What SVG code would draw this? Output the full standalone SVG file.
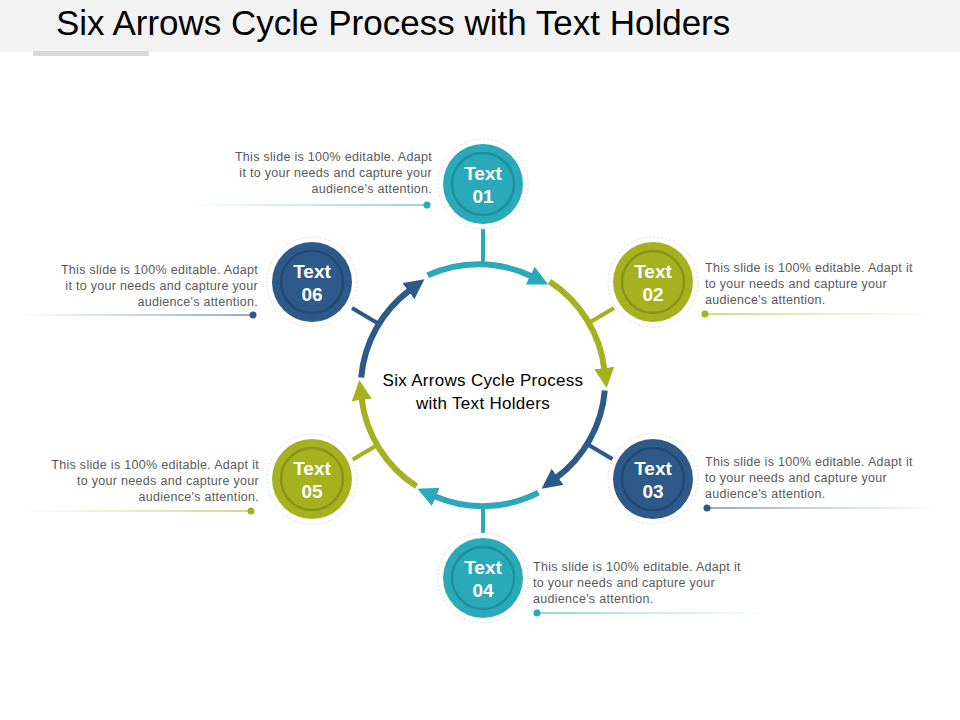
<svg xmlns="http://www.w3.org/2000/svg" width="960" height="720" viewBox="0 0 960 720">
<style>
.d{font-family:"Liberation Sans",Arial,sans-serif;font-size:12.5px;letter-spacing:0.3px;fill:#595959}
.r{text-anchor:end}
.n{font-family:"Liberation Sans",Arial,sans-serif;font-size:19px;font-weight:bold;fill:#fff;text-anchor:middle}
.halo{fill:#fff;stroke:#ddd;stroke-dasharray:2 2}
.ring{fill:none;stroke-width:2.5}
.arc{fill:none;stroke-width:6}
.tick{stroke-width:4}
.c{font-family:"Liberation Sans",Arial,sans-serif;font-size:17px;letter-spacing:0.3px;fill:#000;text-anchor:middle}
</style>
<defs>
<marker id="mT" markerUnits="userSpaceOnUse" markerWidth="24" markerHeight="24" refX="2" refY="10" orient="auto"><path d="M0,0 L20,10 L0,20 Z" fill="#2aaab8"/></marker>
<marker id="mG" markerUnits="userSpaceOnUse" markerWidth="24" markerHeight="24" refX="2" refY="10" orient="auto"><path d="M0,0 L20,10 L0,20 Z" fill="#a5b11f"/></marker>
<marker id="mB" markerUnits="userSpaceOnUse" markerWidth="24" markerHeight="24" refX="2" refY="10" orient="auto"><path d="M0,0 L20,10 L0,20 Z" fill="#2e5a8a"/></marker>
<linearGradient id="gTl" x1="0" x2="1"><stop offset="0" stop-color="#2aaab8" stop-opacity="0"/><stop offset="1" stop-color="#2aaab8"/></linearGradient>
<linearGradient id="gTr" x1="0" x2="1"><stop offset="0" stop-color="#2aaab8"/><stop offset="1" stop-color="#2aaab8" stop-opacity="0"/></linearGradient>
<linearGradient id="gGl" x1="0" x2="1"><stop offset="0" stop-color="#a5b11f" stop-opacity="0"/><stop offset="1" stop-color="#a5b11f"/></linearGradient>
<linearGradient id="gGr" x1="0" x2="1"><stop offset="0" stop-color="#a5b11f"/><stop offset="1" stop-color="#a5b11f" stop-opacity="0"/></linearGradient>
<linearGradient id="gBl" x1="0" x2="1"><stop offset="0" stop-color="#2e5a8a" stop-opacity="0"/><stop offset="1" stop-color="#2e5a8a"/></linearGradient>
<linearGradient id="gBr" x1="0" x2="1"><stop offset="0" stop-color="#2e5a8a"/><stop offset="1" stop-color="#2e5a8a" stop-opacity="0"/></linearGradient>
</defs>
<rect width="960" height="720" fill="#fff"/>
<rect x="0" y="0" width="960" height="52" fill="#f2f2f2"/>
<rect x="33" y="51" width="116" height="5" fill="#d9d9d9"/>
<text x="56" y="35" font-family="Liberation Sans,Arial,sans-serif" font-size="35" fill="#000">Six Arrows Cycle Process with Text Holders</text>

<g id="connectors">
<path class="arc" stroke="#2aaab8" d="M427.6,275.3 A122,122 0 0 1 532,276.5" marker-end="url(#mT)"/>
<path class="arc" stroke="#a5b11f" d="M549.5,281.6 A122,122 0 0 1 604.5,370" marker-end="url(#mG)"/>
<path class="arc" stroke="#2e5a8a" d="M604.8,390.4 A122,122 0 0 1 556,478" marker-end="url(#mB)"/>
<path class="arc" stroke="#2aaab8" d="M538.4,492.7 A122,122 0 0 1 434,496" marker-end="url(#mT)"/>
<path class="arc" stroke="#a5b11f" d="M416.6,486.3 A122,122 0 0 1 361.5,398" marker-end="url(#mG)"/>
<path class="arc" stroke="#2e5a8a" d="M361.2,377.6 A122,122 0 0 1 410,290" marker-end="url(#mB)"/>
<line class="tick" stroke="#2aaab8" x1="483" y1="262" x2="483" y2="228"/>
<line class="tick" stroke="#a5b11f" x1="588.7" y1="323" x2="614" y2="308"/>
<line class="tick" stroke="#2e5a8a" x1="588.7" y1="445" x2="614" y2="460"/>
<line class="tick" stroke="#2aaab8" x1="483" y1="506" x2="483" y2="540"/>
<line class="tick" stroke="#a5b11f" x1="377.3" y1="445" x2="352" y2="460"/>
<line class="tick" stroke="#2e5a8a" x1="377.3" y1="323" x2="352" y2="308"/>
</g>

<g id="center"><text class="c" x="483" y="386">Six Arrows Cycle Process</text><text class="c" x="483" y="409">with Text Holders</text></g>

<g id="node01"><circle class="halo" cx="483" cy="184" r="45"/><circle cx="483" cy="184" r="40" fill="#2aaab8"/><circle class="ring" cx="483" cy="184" r="31" stroke="#20909c"/><text class="n" x="483" y="180">Text</text><text class="n" x="483" y="203">01</text></g>
<g id="node02"><circle class="halo" cx="653" cy="282" r="45"/><circle cx="653" cy="282" r="40" fill="#a5b11f"/><circle class="ring" cx="653" cy="282" r="31" stroke="#8a9418"/><text class="n" x="653" y="278">Text</text><text class="n" x="653" y="301">02</text></g>
<g id="node03"><circle class="halo" cx="653" cy="479" r="45"/><circle cx="653" cy="479" r="40" fill="#2e5a8a"/><circle class="ring" cx="653" cy="479" r="31" stroke="#234a74"/><text class="n" x="653" y="475">Text</text><text class="n" x="653" y="498">03</text></g>
<g id="node04"><circle class="halo" cx="483" cy="578" r="45"/><circle cx="483" cy="578" r="40" fill="#2aaab8"/><circle class="ring" cx="483" cy="578" r="31" stroke="#20909c"/><text class="n" x="483" y="574">Text</text><text class="n" x="483" y="597">04</text></g>
<g id="node05"><circle class="halo" cx="312" cy="479" r="45"/><circle cx="312" cy="479" r="40" fill="#a5b11f"/><circle class="ring" cx="312" cy="479" r="31" stroke="#8a9418"/><text class="n" x="312" y="475">Text</text><text class="n" x="312" y="498">05</text></g>
<g id="node06"><circle class="halo" cx="312" cy="282" r="45"/><circle cx="312" cy="282" r="40" fill="#2e5a8a"/><circle class="ring" cx="312" cy="282" r="31" stroke="#234a74"/><text class="n" x="312" y="278">Text</text><text class="n" x="312" y="301">06</text></g>

<g id="desc01"><text class="d r" x="432" y="161">This slide is 100% editable. Adapt</text><text class="d r" x="432" y="177">it to your needs and capture your</text><text class="d r" x="432" y="193">audience's attention.</text><rect x="190" y="204.5" width="237" height="1" fill="url(#gTl)"/><circle cx="427" cy="205" r="3.5" fill="#2aaab8"/></g>
<g id="desc06"><text class="d r" x="258" y="274">This slide is 100% editable. Adapt</text><text class="d r" x="258" y="290">it to your needs and capture your</text><text class="d r" x="258" y="306">audience's attention.</text><rect x="20" y="314.5" width="233" height="1" fill="url(#gBl)"/><circle cx="253" cy="315" r="3.5" fill="#2e5a8a"/></g>
<g id="desc02"><text class="d" x="705" y="272">This slide is 100% editable. Adapt it</text><text class="d" x="705" y="288">to your needs and capture your</text><text class="d" x="705" y="304">audience's attention.</text><rect x="705" y="313.5" width="230" height="1" fill="url(#gGr)"/><circle cx="705" cy="314" r="3.5" fill="#a5b11f"/></g>
<g id="desc03"><text class="d" x="705" y="466">This slide is 100% editable. Adapt it</text><text class="d" x="705" y="482">to your needs and capture your</text><text class="d" x="705" y="498">audience's attention.</text><rect x="707" y="507.5" width="228" height="1" fill="url(#gBr)"/><circle cx="707" cy="508" r="3.5" fill="#2e5a8a"/></g>
<g id="desc05"><text class="d r" x="259" y="469">This slide is 100% editable. Adapt it</text><text class="d r" x="259" y="485">to your needs and capture your</text><text class="d r" x="259" y="501">audience's attention.</text><rect x="20" y="510.5" width="231" height="1" fill="url(#gGl)"/><circle cx="251" cy="511" r="3.5" fill="#a5b11f"/></g>
<g id="desc04"><text class="d" x="533" y="571">This slide is 100% editable. Adapt it</text><text class="d" x="533" y="587">to your needs and capture your</text><text class="d" x="533" y="603">audience's attention.</text><rect x="537" y="612.5" width="230" height="1" fill="url(#gTr)"/><circle cx="537" cy="613" r="3.5" fill="#2aaab8"/></g>
</svg>
